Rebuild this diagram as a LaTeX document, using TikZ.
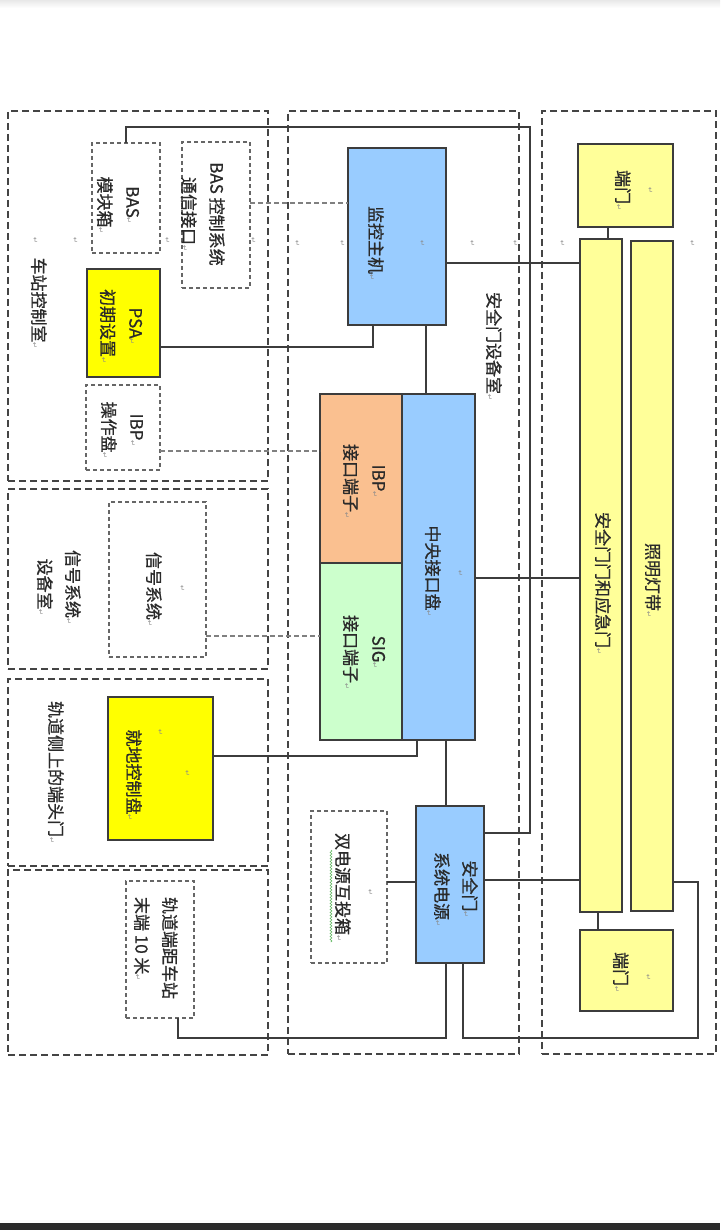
\documentclass[tikz,border=0pt]{standalone}
\usepackage{fontspec}
\setmainfont[FakeBold=0.8]{Noto Sans CJK SC}
\newfontfamily\dvsfont{DejaVu Sans}
\usepackage{graphicx}
\usetikzlibrary{decorations.pathmorphing}
\definecolor{bblue}{HTML}{99CCFF}
\definecolor{borange}{HTML}{FAC090}
\definecolor{bgreen}{HTML}{CCFFCC}
\definecolor{byel}{HTML}{FFFF00}
\definecolor{pyel}{HTML}{FFFF99}
\definecolor{edgec}{HTML}{3C3C3C}
\definecolor{txtc}{HTML}{2A2A2A}
\definecolor{roomc}{HTML}{444444}
\definecolor{dboxc}{HTML}{666666}
\definecolor{markc}{HTML}{8A8A8A}
\newcommand\retmark{{\dvsfont\fontsize{7}{8}\selectfont\textcolor{markc}{↵}}}
\newcommand\vtext[1]{\rotatebox{-90}{\renewcommand\arraystretch{1.4}\begin{tabular}{@{}c@{}}#1\end{tabular}}}
\newcommand\vtextl[1]{\rotatebox{-90}{\renewcommand\arraystretch{1.4}\begin{tabular}{@{}l@{}}#1\end{tabular}}}
\begin{document}
\begin{tikzpicture}[x=1pt,y=-1pt,
  box/.style={draw=edgec, line width=1.2pt, inner sep=0pt, outer sep=0pt},
  room/.style={draw=roomc, dash pattern=on 7pt off 4pt, line width=1.2pt, inner sep=0pt, outer sep=0pt},
  dbox/.style={draw=dboxc, dash pattern=on 4pt off 3pt, line width=1.1pt, inner sep=0pt, outer sep=0pt},
  wire/.style={draw=edgec, line width=1.1pt},
  dwire/.style={draw=gray, dash pattern=on 5pt off 3pt, line width=1.1pt},
  txt/.style={inner sep=0pt, text=txtc, font=\fontsize{17}{20}\selectfont},
  mk/.style={inner sep=0pt}]
\useasboundingbox (0,0) rectangle (720,1230);
\fill[white] (0,0) rectangle (720,1230);
\shade[top color=black!9, bottom color=white] (0,0) rectangle (720,8);
\fill[black!83] (0,1223) rectangle (720,1230);

% rooms
\node[room, minimum width=260pt, minimum height=370pt] (roomA) at (138,296) {};
\node[room, minimum width=260pt, minimum height=180pt] (roomB) at (138,579) {};
\node[room, minimum width=260pt, minimum height=187pt] (roomC) at (138,772.5) {};
\node[room, minimum width=260pt, minimum height=185pt] (roomD) at (138,962.5) {};
\node[room, minimum width=231pt, minimum height=943pt] (roomM) at (403.5,582.5) {};
\node[room, minimum width=174pt, minimum height=943pt] (roomR) at (629,582.5) {};

% boxes
\node[dbox, minimum width=68pt, minimum height=110pt] (basmod) at (126,198) {};
\node[dbox, minimum width=68pt, minimum height=146pt] (basif) at (216,215) {};
\node[box, fill=byel, minimum width=73pt, minimum height=108pt] (psa) at (123.5,323) {};
\node[dbox, minimum width=74pt, minimum height=85pt] (ibpop) at (123,427.5) {};
\node[box, fill=bblue, minimum width=98pt, minimum height=177pt] (mon) at (397,236.5) {};
\node[box, fill=borange, minimum width=82pt, minimum height=169pt] (ibpt) at (361,478.5) {};
\node[box, fill=bgreen, minimum width=82pt, minimum height=177pt] (sigt) at (361,651.5) {};
\node[box, fill=bblue, minimum width=73pt, minimum height=346pt] (cip) at (438.5,567) {};
\node[box, fill=bblue, minimum width=68pt, minimum height=157pt] (pwr) at (450,884.5) {};
\node[dbox, minimum width=76pt, minimum height=152pt] (dual) at (349,887) {};
\node[box, fill=pyel, minimum width=95pt, minimum height=83pt] (door1) at (625.5,185.5) {};
\node[box, fill=pyel, minimum width=42pt, minimum height=673pt] (psd) at (601,575.5) {};
\node[box, fill=pyel, minimum width=42pt, minimum height=670pt] (light) at (652,576) {};
\node[box, fill=pyel, minimum width=93pt, minimum height=81pt] (door2) at (626.5,970.5) {};
\node[dbox, minimum width=97pt, minimum height=155pt] (sig) at (157.5,579.5) {};
\node[box, fill=byel, minimum width=105pt, minimum height=143pt] (local) at (160.5,768.5) {};
\node[dbox, minimum width=68pt, minimum height=137pt] (trackend) at (160,949.5) {};

% helper coordinates
\coordinate (k1) at (530,127);
\coordinate (y833) at (0,833);
\coordinate (y203) at (0,203);
\coordinate (y347) at (0,347);
\coordinate (x373) at (373,0);
\coordinate (x426) at (426,0);
\coordinate (y263) at (0,263);
\coordinate (y451) at (0,451);
\coordinate (y636) at (0,636);
\coordinate (y578) at (0,578);
\coordinate (y756) at (0,756);
\coordinate (x417) at (417,0);
\coordinate (x446) at (446,0);
\coordinate (x463) at (463,0);
\coordinate (y882) at (0,882);
\coordinate (y880) at (0,880);
\coordinate (k3) at (178,1038);
\coordinate (k4) at (698,1038);
\coordinate (x608) at (608,0);
\coordinate (x598) at (598,0);

% connectors
\draw[wire] (basmod.north) |- (k1) |- (pwr.east |- y833);
\draw[dwire] (basif.east |- y203) -- (mon.west |- y203);
\draw[wire] (psa.east |- y347) -| (mon.south -| x373);
\draw[wire] (mon.south -| x426) -- (cip.north -| x426);
\draw[wire] (mon.east |- y263) -- (psd.west |- y263);
\draw[dwire] (ibpop.east |- y451) -- (ibpt.west |- y451);
\draw[dwire] (sig.east |- y636) -- (sigt.west |- y636);
\draw[wire] (cip.east |- y578) -- (psd.west |- y578);
\draw[wire] (local.east |- y756) -| (cip.south -| x417);
\draw[wire] (cip.south -| x446) -- (pwr.north -| x446);
\draw[wire] (pwr.west |- y882) -- (dual.east |- y882);
\draw[wire] (pwr.east |- y880) -- (psd.west |- y880);
\draw[wire] (pwr.south -| x446) |- (k3) -- (trackend.south -| k3);
\draw[wire] (pwr.south -| x463) |- (k4) |- (light.east |- y882);
\draw[wire] (door1.south -| x608) -- (psd.north -| x608);
\draw[wire] (door2.north -| x598) -- (psd.south -| x598);

% spell-check wavy underline
\draw[green!55!black!60, line width=0.6pt, decorate, decoration={snake, amplitude=0.9pt, segment length=3pt}] (331,850) -- (331,942);

% texts
\node[txt] (t-ctrl) at (38,303) {\vtext{车站控制室\retmark}};
\node[txt] (t-sigroom) at (58,587) {\vtext{信号系统\retmark\\设备室\retmark}};
\node[txt] (t-track) at (55,772) {\vtext{轨道侧上的端头门\retmark}};
\node[txt] (t-psdroom) at (493,346) {\vtext{安全门设备室\retmark}};
\node[txt] (t-basmod) at (118,205) {\vtext{BAS\retmark\\模块箱\retmark}};
\node[txt] (t-basif) at (202,214) {\vtext{BAS 控制系统\\通信接口\retmark}};
\node[txt] (t-psa) at (121,326) {\vtext{PSA\retmark\\初期设置\retmark}};
\node[txt] (t-ibpop) at (122,430) {\vtext{IBP\retmark\\操作盘\retmark}};
\node[txt] (t-mon) at (375,243) {\vtext{监控主机\retmark}};
\node[txt] (t-ibpt) at (364,481) {\vtext{IBP\retmark\\接口端子\retmark}};
\node[txt] (t-sigt) at (364,652) {\vtext{SIG\retmark\\接口端子\retmark}};
\node[txt] (t-cip) at (432,571) {\vtext{中央接口盘\retmark}};
\node[txt] (t-pwr) at (455,889) {\vtext{安全门\retmark\\系统电源\retmark}};
\node[txt] (t-dual) at (342,887) {\vtext{双电源互投箱\retmark}};
\node[txt] (t-door1) at (622,190) {\vtext{端门\retmark}};
\node[txt] (t-psd) at (602,583) {\vtext{安全门门和应急门\retmark}};
\node[txt] (t-light) at (652,580) {\vtext{照明灯带\retmark}};
\node[txt] (t-door2) at (620,972) {\vtext{端门\retmark}};
\node[txt] (t-sig) at (153,589) {\vtext{信号系统\retmark}};
\node[txt] (t-local) at (133,775) {\vtext{就地控制盘\retmark}};
\node[txt] (t-track2) at (155,948) {\vtextl{轨道端距车站\\末端 10 米\retmark}};

% stray paragraph marks
\node[mk] (m1) at (35,240) {\rotatebox{-90}{\retmark}};
\node[mk] (m2) at (75,240) {\rotatebox{-90}{\retmark}};
\node[mk] (m3) at (167,240) {\rotatebox{-90}{\retmark}};
\node[mk] (m4) at (253,240) {\rotatebox{-90}{\retmark}};
\node[mk] (m5) at (297,243) {\rotatebox{-90}{\retmark}};
\node[mk] (m6) at (342,243) {\rotatebox{-90}{\retmark}};
\node[mk] (m7) at (422,243) {\rotatebox{-90}{\retmark}};
\node[mk] (m8) at (472,243) {\rotatebox{-90}{\retmark}};
\node[mk] (m9) at (515,243) {\rotatebox{-90}{\retmark}};
\node[mk] (m10) at (562,243) {\rotatebox{-90}{\retmark}};
\node[mk] (m11) at (692,243) {\rotatebox{-90}{\retmark}};
\node[mk] (m12) at (460,573) {\rotatebox{-90}{\retmark}};
\node[mk] (m13) at (370,892) {\rotatebox{-90}{\retmark}};
\node[mk] (m14) at (650,190) {\rotatebox{-90}{\retmark}};
\node[mk] (m15) at (648,977) {\rotatebox{-90}{\retmark}};
\node[mk] (m16) at (182,588) {\rotatebox{-90}{\retmark}};
\node[mk] (m17) at (160,732) {\rotatebox{-90}{\retmark}};
\node[mk] (m18) at (187,773) {\rotatebox{-90}{\retmark}};
\end{tikzpicture}
\end{document}
